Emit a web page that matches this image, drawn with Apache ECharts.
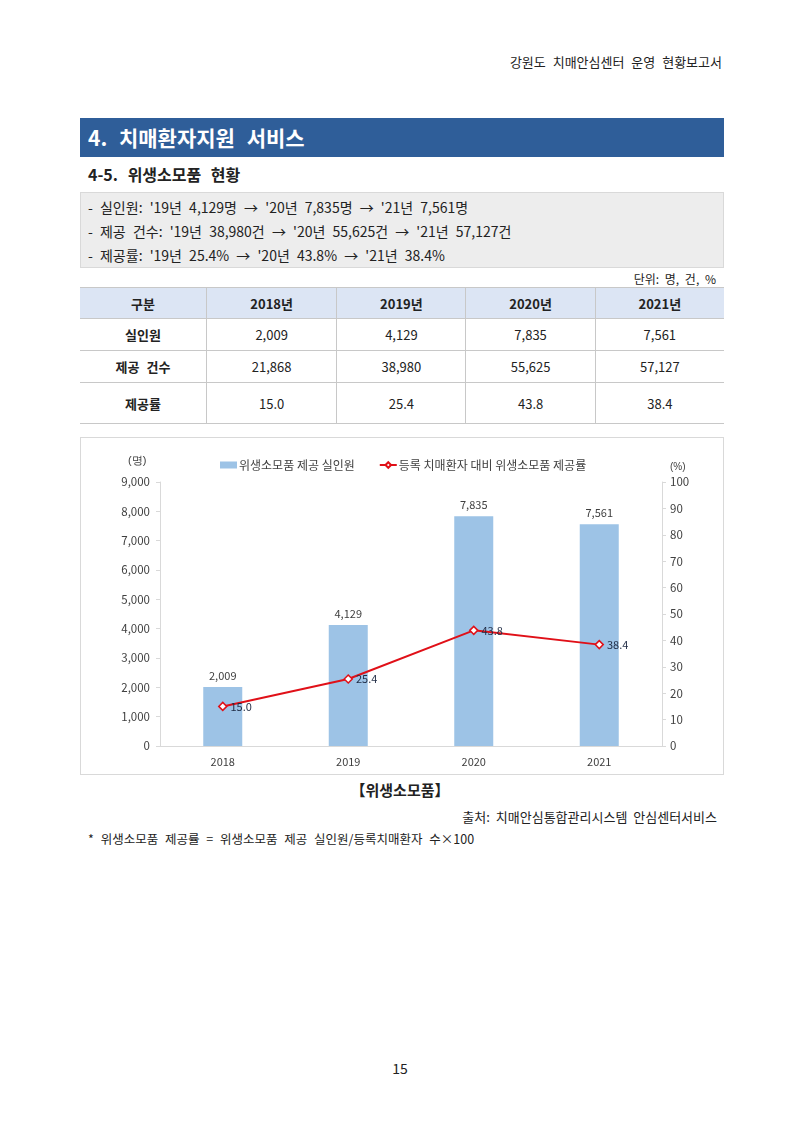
<!DOCTYPE html>
<html>
<head>
<meta charset="utf-8">
<script src="https://cdn.jsdelivr.net/npm/echarts@6/dist/echarts.min.js"></script>
<style>
	body { margin: 0; width: 800px; height: 1131px; background: #fff; position: relative; font-family: "Noto Sans CJK KR", "Noto Sans", sans-serif; color: #222; }
	.abs { position: absolute; }
	.page-head { top: 52px; right: 78px; font-size: 13px; word-spacing: 4px; }
	.sec-bar { left: 80px; top: 118px; width: 644px; height: 39px; background: #2f5e99; color: #fff; font-size: 21px; font-weight: bold; line-height: 39px; padding-left: 8px; box-sizing: border-box; word-spacing: 7px; }
	.sub-title { left: 88px; top: 162px; font-size: 16px; font-weight: bold; word-spacing: 6px; }
	.summary { left: 80px; top: 192px; width: 644px; height: 76px; background: #ededed; border: 1px solid #d9d9d9; box-sizing: border-box; padding: 2px 0 0 7px; font-size: 14px; line-height: 24px; word-spacing: 4px; }
	.unit { top: 270px; right: 84px; font-size: 12px; word-spacing: 3px; }
	table { position: absolute; left: 80px; top: 287px; width: 644px; border-collapse: collapse; font-size: 13px; word-spacing: 4px; }
	td, th { border: 1px solid #c8c8c8; text-align: center; padding: 0; }
	th { background: #dce5f4; height: 30px; font-weight: bold; }
	td.lbl { font-weight: bold; }
	td:first-child, th:first-child { border-left: none; }
	td:last-child, th:last-child { border-right: none; }
	#chart { left: 80px; top: 437px; width: 644px; height: 338px; border: 1px solid #d9d9d9; box-sizing: border-box; }
	.caption { left: 0; width: 800px; top: 779px; text-align: center; font-size: 15px; font-weight: bold; }
	.source { top: 807px; right: 83px; font-size: 13px; word-spacing: 3px; }
	.note { left: 88px; top: 829px; font-size: 12.5px; word-spacing: 4px; }
	.page-no { left: 0; width: 800px; top: 1058px; text-align: center; font-size: 14px; }
</style>
</head>
<body>
	<div class="abs page-head">강원도 치매안심센터 운영 현황보고서</div>
	<div class="abs sec-bar">4. 치매환자지원 서비스</div>
	<div class="abs sub-title">4-5. 위생소모품 현황</div>
	<div class="abs summary">
		<div>- 실인원: '19년 4,129명 → '20년 7,835명 → '21년 7,561명</div>
		<div>- 제공 건수: '19년 38,980건 → '20년 55,625건 → '21년 57,127건</div>
		<div>- 제공률: '19년 25.4% → '20년 43.8% → '21년 38.4%</div>
	</div>
	<div class="abs unit">단위: 명, 건, %</div>
	<table id="tbl"></table>
	<div class="abs" id="chart"></div>
	<div class="abs caption">【위생소모품】</div>
	<div class="abs source">출처: 치매안심통합관리시스템 안심센터서비스</div>
	<div class="abs note">* 위생소모품 제공률 = 위생소모품 제공 실인원/등록치매환자 수×100</div>
	<div class="abs page-no">15</div>

<script>
const years = ['2018', '2019', '2020', '2021']
const people = [2009, 4129, 7835, 7561]
const cases = [21868, 38980, 55625, 57127]
const rate = [15.0, 25.4, 43.8, 38.4]

const fmt = v => v.toLocaleString('en-US')

// 표
const colW = [127, 130, 129, 129, 129]
let html = '<tr>' + ['구분'].concat(years.map(y => y + '년')).map((t, i) => `<th style="width:${colW[i]}px">${t}</th>`).join('') + '</tr>'
html += '<tr style="height:32px"><td class="lbl">실인원</td>' + people.map(v => `<td>${fmt(v)}</td>`).join('') + '</tr>'
html += '<tr style="height:32px"><td class="lbl">제공 건수</td>' + cases.map(v => `<td>${fmt(v)}</td>`).join('') + '</tr>'
html += '<tr style="height:41px"><td class="lbl">제공률</td>' + rate.map(v => `<td>${v.toFixed(1)}</td>`).join('') + '</tr>'
document.getElementById('tbl').innerHTML = html

const chart = echarts.init(document.getElementById('chart'))
const axisGray = '#d9d9d9'
const txt = '#404040'
chart.setOption({
	textStyle: { fontFamily: '"Noto Sans CJK KR", sans-serif' },
	animation: false,
	grid: { left: 79, right: 61, top: 44, bottom: 28 },
	legend: {
		top: 16,
		left: 134,
		itemGap: 24,
		itemWidth: 17,
		itemHeight: 7,
		textStyle: { fontSize: 12, color: txt, padding: [0, 0, 0, -3] },
		data: [
			{ name: '위생소모품 제공 실인원', icon: 'rect' },
			{ name: '등록 치매환자 대비 위생소모품 제공률' }
		]
	},
	graphic: [
		{ type: 'text', left: 47, top: 17, style: { text: '(명)', fontSize: 11, fill: txt } },
		{ type: 'text', left: 589, top: 24, style: { text: '(%)', fontSize: 10, fill: txt } }
	],
	xAxis: {
		type: 'category',
		data: years,
		axisLine: { lineStyle: { color: axisGray } },
		axisTick: { show: false },
		axisLabel: { fontSize: 11, color: txt, margin: 10 }
	},
	yAxis: [
		{
			type: 'value', min: 0, max: 9000, interval: 1000,
			axisLine: { show: true, lineStyle: { color: axisGray } },
			axisTick: { show: true, length: 4, lineStyle: { color: axisGray } },
			splitLine: { show: false },
			axisLabel: { fontSize: 11.5, color: txt, margin: 10, formatter: v => fmt(v) }
		},
		{
			type: 'value', min: 0, max: 100, interval: 10,
			axisLine: { show: true, lineStyle: { color: axisGray } },
			axisTick: { show: true, length: 4, lineStyle: { color: axisGray } },
			splitLine: { show: false },
			axisLabel: { fontSize: 11.5, color: txt, margin: 8 }
		}
	],
	series: [
		{
			name: '위생소모품 제공 실인원',
			type: 'bar',
			barWidth: 39,
			itemStyle: { color: '#9dc3e6' },
			label: { show: true, position: 'top', fontSize: 11, color: txt, distance: 6, formatter: p => fmt(p.value) },
			data: people
		},
		{
			name: '등록 치매환자 대비 위생소모품 제공률',
			type: 'line',
			yAxisIndex: 1,
			symbol: 'diamond',
			symbolSize: 8,
			lineStyle: { color: '#e01018', width: 2 },
			itemStyle: { color: '#fff', borderColor: '#e01018', borderWidth: 1.5 },
			label: { show: true, position: 'right', fontSize: 11, color: '#1f2b44', distance: 3, formatter: p => p.value.toFixed(1) },
			data: rate
		}
	]
})
</script>
</body>
</html>
